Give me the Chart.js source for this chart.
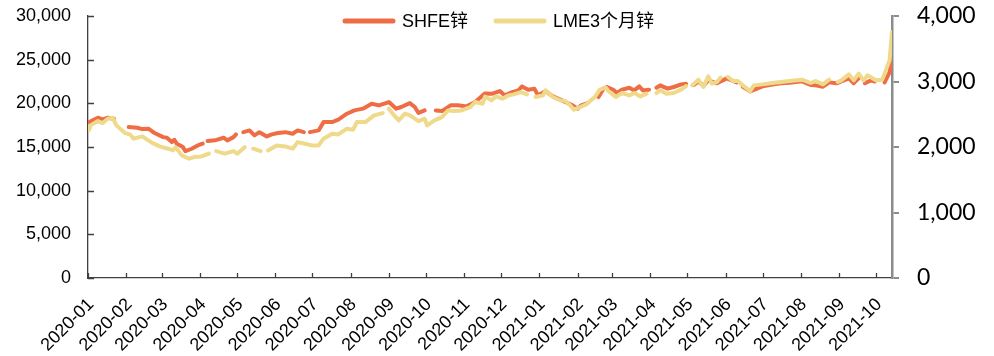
<!DOCTYPE html>
<html>
<head>
<meta charset="utf-8">
<script src="https://cdn.jsdelivr.net/npm/chart.js@4.4.0/dist/chart.umd.min.js"></script>
<style>
  body { margin: 0; background: #fff; }
  canvas { display: block; }
</style>
</head>
<body>
<canvas id="chart" width="994" height="356"></canvas>
<script>
// SHFE锌 (元/吨, left axis); null = no trading that day
const shfeDates = [
  "2020-01-02","2020-01-09","2020-01-13","2020-01-17","2020-01-22","2020-01-23",
  "2020-02-03","2020-02-10","2020-02-14","2020-02-19","2020-02-24",
  "2020-03-02","2020-03-05","2020-03-09","2020-03-11","2020-03-13","2020-03-18","2020-03-20","2020-03-25","2020-03-30",
  "2020-04-03","2020-04-06","2020-04-07","2020-04-13","2020-04-20","2020-04-23","2020-04-28","2020-04-30",
  "2020-05-04","2020-05-06","2020-05-11","2020-05-15","2020-05-19","2020-05-25","2020-05-29",
  "2020-06-03","2020-06-09","2020-06-15","2020-06-19","2020-06-24","2020-06-26","2020-06-29",
  "2020-07-06","2020-07-10","2020-07-17","2020-07-22","2020-07-29",
  "2020-08-04","2020-08-11","2020-08-18","2020-08-24",
  "2020-09-01","2020-09-07","2020-09-11","2020-09-18","2020-09-22","2020-09-25","2020-09-30",
  "2020-10-01","2020-10-09","2020-10-14","2020-10-21","2020-10-27",
  "2020-11-03","2020-11-10","2020-11-18","2020-11-24","2020-11-30",
  "2020-12-04","2020-12-10","2020-12-15","2020-12-18","2020-12-23","2020-12-28","2020-12-31",
  "2021-01-06","2021-01-12","2021-01-18","2021-01-22","2021-01-28",
  "2021-02-01","2021-02-04","2021-02-09","2021-02-12","2021-02-18","2021-02-22","2021-02-25",
  "2021-03-02","2021-03-05","2021-03-09","2021-03-15","2021-03-19","2021-03-23","2021-03-26","2021-03-31",
  "2021-04-05","2021-04-06","2021-04-09","2021-04-15","2021-04-20","2021-04-26","2021-04-30",
  "2021-05-04","2021-05-06","2021-05-10","2021-05-14","2021-05-18","2021-05-25",
  "2021-06-02","2021-06-10","2021-06-14","2021-06-15","2021-06-21",
  "2021-07-01","2021-07-09","2021-07-16","2021-07-23",
  "2021-08-02","2021-08-09","2021-08-13","2021-08-19","2021-08-24","2021-08-30",
  "2021-09-09","2021-09-13","2021-09-17","2021-09-20","2021-09-22","2021-09-27","2021-09-30",
  "2021-10-01","2021-10-08","2021-10-12","2021-10-14"
];
const shfeValues = [
  17850,18360,18130,18360,18240,null,
  17280,17200,17050,17100,16600,
  16130,16060,15560,15830,15380,14990,14530,14800,15180,
  15380,null,15680,15760,16060,15760,16130,16440,
  null,16700,16900,16330,16700,16210,16440,
  16600,16700,16520,16900,16700,null,16700,
  16900,17850,17850,18130,18810,
  19190,19390,19960,19770,
  20150,19390,19580,20030,19580,18900,19190,
  null,19190,19110,19770,19770,
  19650,20150,21140,21100,21410,
  20910,21290,21480,21940,21560,21680,20910,
  21410,20800,20420,20150,19770,
  19390,19770,20030,null,20720,21680,21870,
  21560,21180,21560,21790,21480,21940,21480,21560,
  null,21790,22060,21680,21870,22170,22250,
  null,22100,22500,22000,22630,22290,
  22860,22400,null,21900,21370,
  21940,22150,22290,22350,
  22520,22100,22060,21900,22400,22290,
  22860,22300,22900,null,22300,22630,22500,
  null,22400,23550,25700
];

// LME3个月锌 (美元/吨, right axis)
const lmeDates = [
  "2020-01-02","2020-01-03","2020-01-09","2020-01-13","2020-01-17","2020-01-21","2020-01-24","2020-01-31",
  "2020-02-04","2020-02-07","2020-02-14","2020-02-21","2020-02-28",
  "2020-03-06","2020-03-10","2020-03-12","2020-03-17","2020-03-23","2020-03-27",
  "2020-04-02","2020-04-08","2020-04-10","2020-04-14","2020-04-21","2020-04-28",
  "2020-05-01","2020-05-07","2020-05-08","2020-05-14","2020-05-20","2020-05-25","2020-05-26",
  "2020-06-02","2020-06-09","2020-06-15","2020-06-19","2020-06-25",
  "2020-07-01","2020-07-06","2020-07-10","2020-07-17","2020-07-22","2020-07-29",
  "2020-08-03","2020-08-06","2020-08-13","2020-08-20","2020-08-27","2020-08-31",
  "2020-09-01","2020-09-04","2020-09-09","2020-09-14","2020-09-18","2020-09-25","2020-09-30",
  "2020-10-02","2020-10-08","2020-10-14","2020-10-19","2020-10-23","2020-10-30",
  "2020-11-06","2020-11-10","2020-11-16","2020-11-18","2020-11-23","2020-11-27",
  "2020-12-02","2020-12-07","2020-12-11","2020-12-17","2020-12-22","2020-12-25","2020-12-29",
  "2021-01-04","2021-01-06","2021-01-12","2021-01-18","2021-01-22","2021-01-26","2021-01-29",
  "2021-02-02","2021-02-08","2021-02-15","2021-02-19","2021-02-24","2021-02-26",
  "2021-03-04","2021-03-09","2021-03-15","2021-03-19","2021-03-24","2021-03-29",
  "2021-04-02","2021-04-06","2021-04-09","2021-04-14","2021-04-20","2021-04-26","2021-04-30",
  "2021-05-03","2021-05-05","2021-05-10","2021-05-14","2021-05-18","2021-05-21","2021-05-25","2021-05-28","2021-05-31",
  "2021-06-03","2021-06-07","2021-06-11","2021-06-15","2021-06-21","2021-06-24",
  "2021-07-01","2021-07-09","2021-07-16","2021-07-23",
  "2021-08-02","2021-08-09","2021-08-13","2021-08-19","2021-08-24","2021-08-30","2021-08-31",
  "2021-09-03","2021-09-09","2021-09-13","2021-09-17","2021-09-21","2021-09-24",
  "2021-10-01","2021-10-06","2021-10-08","2021-10-12","2021-10-14"
];
const lmeValues = [
  2264,2330,2396,2365,2432,2448,2330,2212,
  2192,2127,2162,2075,2009,
  1974,1948,1998,1872,1821,1846,
  1856,1898,null,1937,1898,1937,
  1898,1998,null,1974,1937,null,1948,
  2024,2009,1974,2075,2050,
  2024,2024,2127,2203,2192,2280,
  2264,2380,2380,2483,2518,null,
  2585,2509,2406,2509,2483,2396,2432,
  2330,2406,2457,2559,2549,2559,
  2610,2686,2661,2770,2712,2773,
  2738,2788,2804,2839,2804,null,2763,
  2788,2865,2763,2712,2701,2636,2570,
  2600,2651,2763,2875,2906,2854,
  2763,2824,2788,2824,2773,2814,
  null,2824,2865,2814,2824,2875,2930,
  null,2941,3028,2916,3079,2967,2992,3059,null,
  3069,3007,3007,2941,2854,2941,
  2956,2977,2992,3007,
  3028,2977,3007,2956,3028,null,2992,
  3018,3109,3018,3120,3018,3094,
  3018,3028,3120,3323,3755
];

const monthLabels = [
  "2020-01","2020-02","2020-03","2020-04","2020-05","2020-06","2020-07","2020-08","2020-09","2020-10","2020-11","2020-12",
  "2021-01","2021-02","2021-03","2021-04","2021-05","2021-06","2021-07","2021-08","2021-09","2021-10"
];
const leftTicks = [0, 5000, 10000, 15000, 20000, 25000, 30000];
const rightTicks = [0, 1000, 2000, 3000, 4000];

const FONT = '"Liberation Sans", Arial, "Noto Sans CJK SC", sans-serif';

function dayOf(s) {
  const [y, m, d] = s.split("-").map(Number);
  return (Date.UTC(y, m - 1, d) - Date.UTC(2020, 0, 1)) / 86400000;
}
function toPoints(dates, values) {
  return dates.map((d, i) => ({ x: dayOf(d), y: values[i] }));
}

const monthTicks = monthLabels.map(m => dayOf(m + "-01"));
const lastDay = dayOf(shfeDates[shfeDates.length - 1]);

// inward ticks on left/bottom axes + legend inside the plot
const decor = {
  id: "decor",
  afterDraw(chart) {
    const { ctx, chartArea: a, scales } = chart;
    ctx.save();
    ctx.strokeStyle = "#404040";
    ctx.lineWidth = 1.3;
    ctx.beginPath();
    scales.y.ticks.forEach(t => {
      const py = Math.round(scales.y.getPixelForValue(t.value)) + 0.5;
      ctx.moveTo(a.left, py);
      ctx.lineTo(a.left + 6, py);
    });
    scales.x.ticks.forEach(t => {
      const px = Math.round(scales.x.getPixelForValue(t.value)) + 0.5;
      ctx.moveTo(px, a.bottom);
      ctx.lineTo(px, a.bottom - 5);
    });
    ctx.stroke();

    ctx.font = "18px " + FONT;
    ctx.textBaseline = "middle";
    ctx.fillStyle = "#000";
    ctx.lineCap = "round";
    ctx.lineWidth = 5;
    let cx = 345;
    const ly = 21;
    chart.data.datasets.forEach(ds => {
      ctx.strokeStyle = ds.borderColor;
      ctx.beginPath();
      ctx.moveTo(cx, ly);
      ctx.lineTo(cx + 48, ly);
      ctx.stroke();
      ctx.fillText(ds.label, cx + 57, ly + 1);
      cx += 57 + ctx.measureText(ds.label).width + 28;
    });
    ctx.restore();
  }
};

const noPadY = s => { s.paddingTop = 0; s.paddingBottom = 0; };

new Chart(document.getElementById("chart"), {
  type: "line",
  data: {
    datasets: [
      {
        label: "SHFE锌",
        data: toPoints(shfeDates, shfeValues),
        yAxisID: "y",
        borderColor: "#EE6D45",
        borderWidth: 4,
        order: 1
      },
      {
        label: "LME3个月锌",
        data: toPoints(lmeDates, lmeValues),
        yAxisID: "y1",
        borderColor: "#EFD98A",
        borderWidth: 4,
        order: 0
      }
    ]
  },
  options: {
    responsive: false,
    animation: false,
    devicePixelRatio: 1,
    layout: { padding: { top: 16, left: 0, right: 0, bottom: 0 } },
    elements: {
      point: { radius: 0 },
      line: { tension: 0, borderJoinStyle: "round", borderCapStyle: "round" }
    },
    plugins: { legend: { display: false }, tooltip: { enabled: false } },
    scales: {
      x: {
        type: "linear",
        min: 0,
        max: lastDay,
        grid: { display: false },
        border: { color: "#404040", width: 1.3 },
        afterBuildTicks: s => { s.ticks = monthTicks.map(v => ({ value: v })); },
        afterFit: s => { s.height = 78; s.paddingLeft = 0; s.paddingRight = 0; },
        ticks: {
          autoSkip: false,
          minRotation: 45,
          maxRotation: 45,
          labelOffset: 3,
          padding: 8,
          color: "#000",
          font: { family: FONT, size: 18 },
          callback: v => monthLabels[monthTicks.indexOf(v)]
        }
      },
      y: {
        position: "left",
        min: 0,
        max: 30000,
        grid: { display: false },
        border: { color: "#404040", width: 1.3 },
        afterBuildTicks: s => { s.ticks = leftTicks.map(v => ({ value: v })); },
        afterFit: s => { s.width = 88; noPadY(s); },
        ticks: {
          padding: 9,
          color: "#000",
          font: { family: FONT, size: 18 },
          callback: v => v.toLocaleString("en-US")
        }
      },
      y1: {
        position: "right",
        min: 0,
        max: 4000,
        grid: { display: true, drawOnChartArea: false, drawTicks: true, tickLength: 7, color: "#8C8C8C", lineWidth: 2 },
        border: { color: "#8C8C8C", width: 2.5 },
        afterBuildTicks: s => { s.ticks = rightTicks.map(v => ({ value: v })); },
        afterFit: s => { s.width = 102; noPadY(s); },
        ticks: {
          padding: 18,
          color: "#000",
          font: { family: "Lato, \"Open Sans\", sans-serif", size: 23 },
          callback: v => v.toLocaleString("en-US")
        }
      }
    }
  },
  plugins: [decor]
});
</script>
</body>
</html>
